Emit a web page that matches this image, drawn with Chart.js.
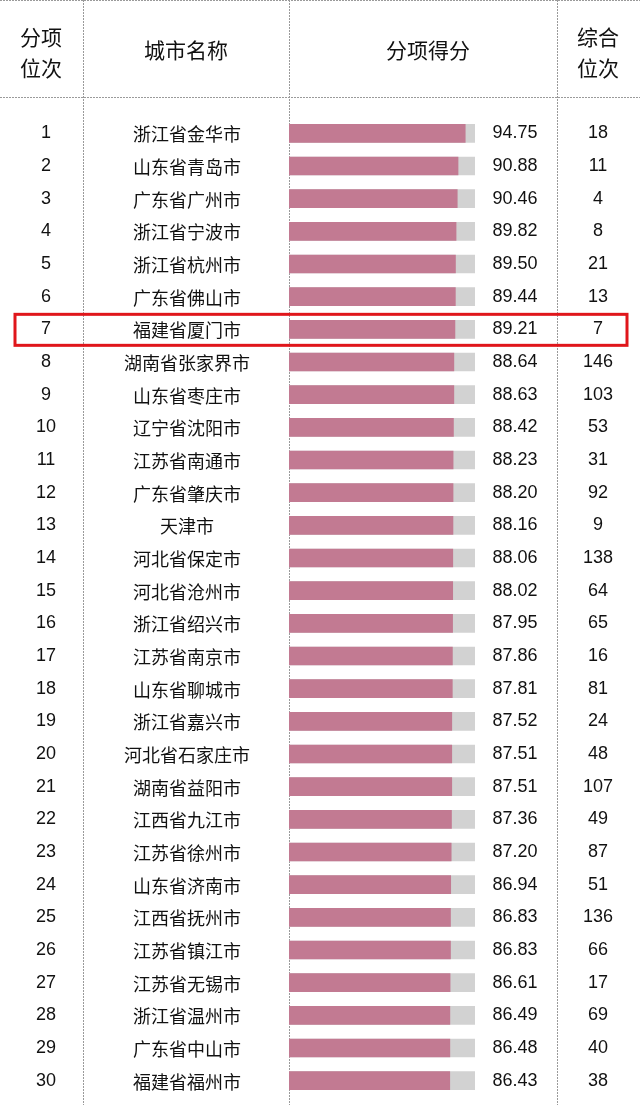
<!DOCTYPE html>
<html>
<head>
<meta charset="utf-8">
<script src="https://cdn.jsdelivr.net/npm/chart.js@4"></script>
<style>
  html, body { margin: 0; padding: 0; background: #fff; }
  #wrap { width: 640px; height: 1105px; position: relative; }
</style>
</head>
<body>
<div id="wrap"><canvas id="c"></canvas></div>
<script>
// Data
const ranks = [1,2,3,4,5,6,7,8,9,10,11,12,13,14,15,16,17,18,19,20,21,22,23,24,25,26,27,28,29,30];
const cities = ['浙江省金华市','山东省青岛市','广东省广州市','浙江省宁波市','浙江省杭州市','广东省佛山市','福建省厦门市','湖南省张家界市','山东省枣庄市','辽宁省沈阳市','江苏省南通市','广东省肇庆市','天津市','河北省保定市','河北省沧州市','浙江省绍兴市','江苏省南京市','山东省聊城市','浙江省嘉兴市','河北省石家庄市','湖南省益阳市','江西省九江市','江苏省徐州市','山东省济南市','江西省抚州市','江苏省镇江市','江苏省无锡市','浙江省温州市','广东省中山市','福建省福州市'];
const scores = [94.75,90.88,90.46,89.82,89.50,89.44,89.21,88.64,88.63,88.42,88.23,88.20,88.16,88.06,88.02,87.95,87.86,87.81,87.52,87.51,87.51,87.36,87.20,86.94,86.83,86.83,86.61,86.49,86.48,86.43];
const overall = [18,11,4,8,21,13,7,146,103,53,31,92,9,138,64,65,16,81,24,48,107,49,87,51,136,66,17,69,40,38];
const fullMark = scores.map(() => 100);
const highlightIndex = 6;

const CJK = '"Noto Sans CJK SC", sans-serif';
const NUM = '"Liberation Sans", Arial, sans-serif';

// table lines + text drawn around the bar chart
const tablePlugin = {
  id: 'table',
  beforeDraw(chart) {
    const ctx = chart.ctx;
    ctx.save();
    ctx.strokeStyle = '#9a9a9a';
    ctx.lineWidth = 1;
    ctx.setLineDash([2, 1]);
    [83.5, 289.5, 557.5].forEach(x => {
      ctx.beginPath(); ctx.moveTo(x, 0); ctx.lineTo(x, 1105); ctx.stroke();
    });
    ctx.beginPath(); ctx.moveTo(0, 97.5); ctx.lineTo(640, 97.5); ctx.stroke();
    ctx.beginPath(); ctx.moveTo(0, 0.5); ctx.lineTo(640, 0.5); ctx.stroke();
    ctx.restore();
  },
  afterDraw(chart) {
    const ctx = chart.ctx;
    const y = chart.scales.y;
    ctx.save();
    ctx.fillStyle = '#111';
    ctx.textAlign = 'center';
    ctx.textBaseline = 'middle';
    // header
    ctx.font = '21px ' + CJK;
    ctx.fillText('分项', 41, 37);
    ctx.fillText('位次', 41, 68);
    ctx.fillText('城市名称', 186, 50);
    ctx.fillText('分项得分', 428, 50);
    ctx.fillText('综合', 598, 37);
    ctx.fillText('位次', 598, 68);
    // rows
    ranks.forEach((r, i) => {
      const py = y.getPixelForValue(i);
      ctx.font = '18px ' + NUM;
      ctx.fillText(String(r), 46, py);
      ctx.fillText(scores[i].toFixed(2), 515, py);
      ctx.fillText(String(overall[i]), 598, py);
      ctx.font = '18px ' + CJK;
      ctx.fillText(cities[i], 187, py + 1);
    });
    // highlight box
    const hy = y.getPixelForValue(highlightIndex);
    ctx.strokeStyle = '#e0161b';
    ctx.lineWidth = 3;
    ctx.strokeRect(15, hy - 15, 612, 31);
    ctx.restore();
  }
};

new Chart(document.getElementById('c'), {
  type: 'bar',
  data: {
    labels: cities,
    datasets: [
      { data: scores, backgroundColor: '#c27a92', barThickness: 18, grouped: false, order: 0 },
      { data: fullMark, backgroundColor: '#d2d2d2', barThickness: 18, grouped: false, order: 1 }
    ]
  },
  options: {
    indexAxis: 'y',
    responsive: true,
    maintainAspectRatio: false,
    animation: false,
    layout: { padding: { left: 289, right: 165, top: 117, bottom: 8 } },
    scales: {
      x: { display: false, min: 0, max: 100 },
      y: { display: false }
    },
    plugins: { legend: { display: false }, tooltip: { enabled: false } }
  },
  plugins: [tablePlugin]
});
</script>
</body>
</html>
